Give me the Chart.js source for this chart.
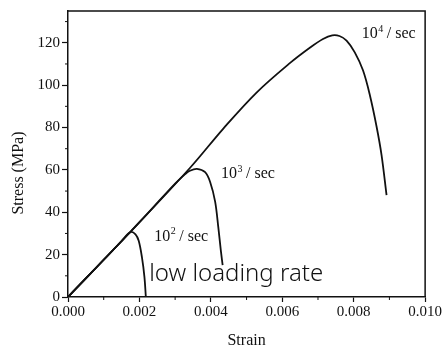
<!DOCTYPE html>
<html>
<head>
<meta charset="utf-8">
<script src="https://cdn.jsdelivr.net/npm/chart.js@4.4.0/dist/chart.umd.min.js"></script>
<style>
  html, body { margin: 0; padding: 0; background: #fff; }
  #wrap { width: 443px; height: 352px; }
</style>
</head>
<body>
<div id="wrap"><canvas id="stress"></canvas></div>
<script>
// strain rate 10^2 /sec
const strain2 = [0, 0.0005, 0.0010, 0.0015, 0.00175, 0.00189, 0.00198, 0.00207, 0.00214, 0.00218];
const stress2 = [0, 8.8, 17.6, 26.4, 30.6, 29.6, 26.5, 18.8, 9.5, 0];
// strain rate 10^3 /sec
const strain3 = [0, 0.00175, 0.0030, 0.00328, 0.0034, 0.00361, 0.00384, 0.00398, 0.00412, 0.00421, 0.00428, 0.00433];
const stress3 = [0, 30.8, 53.5, 58.0, 59.5, 60.5, 58.9, 54.3, 45.0, 32.7, 21.9, 15.0];
// strain rate 10^4 /sec
const strain4 = [0, 0.00175, 0.00342, 0.00435, 0.00528, 0.00622, 0.0068, 0.00714, 0.0074, 0.0076, 0.0078, 0.00803, 0.00826, 0.00845, 0.00864, 0.00878, 0.00892];
const stress4 = [0, 30.8, 61.0, 79.5, 96.5, 110.5, 118.0, 121.8, 123.5, 123.2, 121.0, 115.5, 107.0, 95.5, 80.5, 67.0, 48.1];

const xTicks = [0, 0.002, 0.004, 0.006, 0.008, 0.010];
const xMinor = [0.001, 0.003, 0.005, 0.007, 0.009];
const yTicks = [0, 20, 40, 60, 80, 100, 120];
const yMinor = [10, 30, 50, 70, 90, 110, 130];

// curve labels (data coords)
const rateExp = ['2', '3', '4'];
const rateX = [0.00317, 0.00504, 0.00898];
const rateY = [28.4, 58.0, 124.2];
const noteText = 'low loading rate';
const noteX = 0.00471;
const noteY = 11.0;
const yTitle = 'Stress (MPa)';

const pts = (xs, ys) => xs.map((x, i) => ({ x: x, y: ys[i] }));
const serif = '"Liberation Serif", "Times New Roman", serif';
const ink = '#111';

const extras = {
    id: 'extras',
    afterDraw(chart) {
        const ctx = chart.ctx;
        const a = chart.chartArea;
        const xs = chart.scales.x, ys = chart.scales.y;
        ctx.save();
        ctx.strokeStyle = ink;
        ctx.lineWidth = 1.5;
        // frame top + right
        ctx.beginPath();
        ctx.moveTo(a.left, a.top);
        ctx.lineTo(a.right, a.top);
        ctx.lineTo(a.right, a.bottom);
        ctx.stroke();
        // minor ticks
        ctx.lineWidth = 1;
        ctx.beginPath();
        xMinor.forEach(v => {
            const px = xs.getPixelForValue(v);
            ctx.moveTo(px, a.bottom);
            ctx.lineTo(px, a.bottom + 3);
        });
        yMinor.forEach(v => {
            const py = ys.getPixelForValue(v);
            ctx.moveTo(a.left, py);
            ctx.lineTo(a.left - 3, py);
        });
        ctx.stroke();

        // y title, sits a bit below the middle like the original
        ctx.fillStyle = ink;
        ctx.font = '16px ' + serif;
        ctx.textAlign = 'center';
        ctx.textBaseline = 'middle';
        ctx.translate(19, ys.getPixelForValue(58.5));
        ctx.rotate(-Math.PI / 2);
        ctx.fillText(yTitle, 0, 0);
        ctx.setTransform(1, 0, 0, 1, 0, 0);

        // rate labels: 10^n / sec
        rateExp.forEach((e, i) => {
            const cx = xs.getPixelForValue(rateX[i]);
            const cy = ys.getPixelForValue(rateY[i]);
            ctx.font = '16px ' + serif;
            const w1 = ctx.measureText('10').width;
            const w3 = ctx.measureText(' / sec').width;
            ctx.font = '10px ' + serif;
            const w2 = ctx.measureText(e).width;
            const x0 = cx - (w1 + w2 + w3) / 2;
            ctx.textAlign = 'left';
            ctx.font = '16px ' + serif;
            ctx.fillText('10', x0, cy);
            ctx.font = '10px ' + serif;
            ctx.fillText(e, x0 + w1 + 0.5, cy - 5);
            ctx.font = '16px ' + serif;
            ctx.fillText(' / sec', x0 + w1 + w2, cy);
        });

        // handwritten note
        ctx.font = '300 24px "Noto Sans", sans-serif';
        ctx.textAlign = 'center';
        ctx.fillText(noteText, xs.getPixelForValue(noteX), ys.getPixelForValue(noteY));
        ctx.restore();
    }
};

const line = (d) => ({
    data: d,
    showLine: true,
    borderColor: ink,
    borderWidth: 1.8,
    pointRadius: 0,
    tension: 0.35,
    fill: false
});

new Chart(document.getElementById('stress').getContext('2d'), {
    type: 'scatter',
    data: {
        datasets: [
            line(pts(strain2, stress2)),
            line(pts(strain3, stress3)),
            line(pts(strain4, stress4))
        ]
    },
    options: {
        responsive: true,
        maintainAspectRatio: false,
        animation: false,
        layout: { padding: { top: 5, right: 0, left: 0, bottom: 0 } },
        plugins: {
            legend: { display: false },
            tooltip: { enabled: false }
        },
        scales: {
            x: {
                type: 'linear',
                min: 0,
                max: 0.010,
                afterBuildTicks: (s) => { s.ticks = xTicks.map(v => ({ value: v })); },
                afterFit: (s) => { s.height = 55; },
                ticks: {
                    color: ink,
                    padding: 1,
                    maxRotation: 0,
                    font: { family: serif, size: 15 },
                    callback: (v) => v.toFixed(3)
                },
                grid: { drawOnChartArea: false, tickLength: 5, tickColor: ink, tickWidth: 1.2 },
                border: { display: true, color: ink, width: 1.5 },
                title: {
                    display: true,
                    text: 'Strain',
                    color: ink,
                    font: { family: serif, size: 16 },
                    padding: { top: 0, bottom: 2 }
                }
            },
            y: {
                type: 'linear',
                min: 0,
                max: 135,
                afterBuildTicks: (s) => { s.ticks = yTicks.map(v => ({ value: v })); },
                afterFit: (s) => { s.width = 68; },
                ticks: {
                    color: ink,
                    padding: 2,
                    font: { family: serif, size: 15 }
                },
                grid: { drawOnChartArea: false, tickLength: 6, tickColor: ink, tickWidth: 1.2 },
                border: { display: true, color: ink, width: 1.5 }
            }
        }
    },
    plugins: [extras]
});
</script>
</body>
</html>
